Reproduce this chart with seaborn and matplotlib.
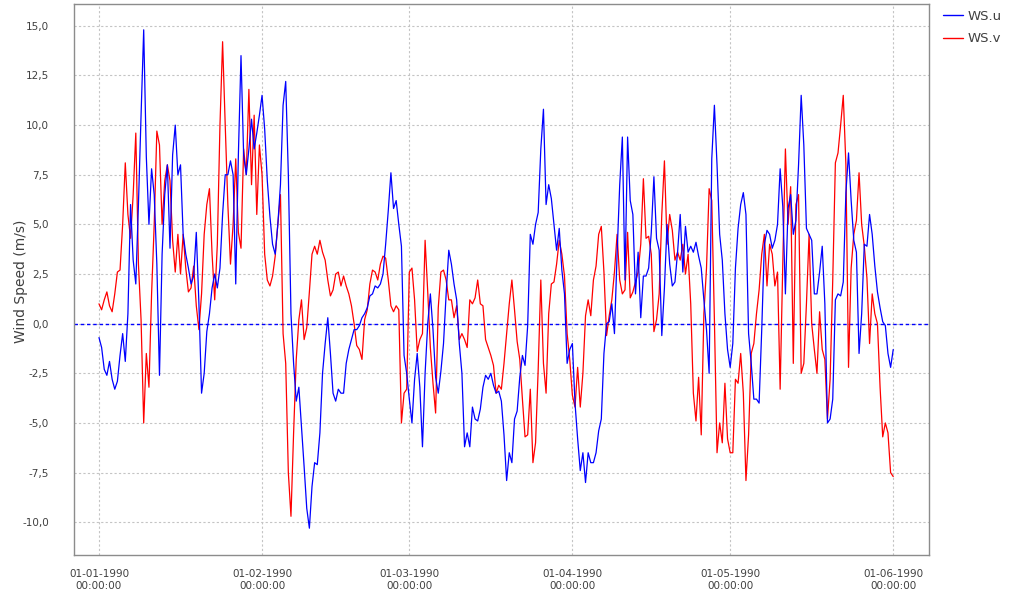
import numpy as np
import pandas as pd
import matplotlib
matplotlib.use('Agg')
import matplotlib.pyplot as plt
import matplotlib.dates as mdates
from matplotlib.lines import Line2D
from matplotlib.ticker import FuncFormatter
import seaborn as sns

# --- 1. Data (12-hourly wind components) ---
start_date = '1990-01-01'
series_names = ['WS.u', 'WS.v']

ws_u = [
    -0.7, -1.2, -2.3, -2.6, -1.9, -2.8, -3.3, -2.9, -1.6, -0.5,
    -1.9, 0.5, 6.0, 3.2, 2.0, 6.0, 10.5, 14.8, 8.4, 5.0,
    7.8, 6.5, 3.0, -2.6, 3.5, 6.5, 8.0, 3.8, 8.5, 10.0,
    7.5, 8.0, 4.5, 3.5, 2.8, 2.0, 2.4, 4.6, 1.0, -3.5,
    -2.5, -0.4, 0.5, 1.8, 2.5, 1.8, 2.8, 5.5, 7.5, 7.5,
    8.2, 7.5, 2.0, 8.5, 13.5, 8.5, 7.5, 8.8, 10.3, 8.8,
    9.6, 10.5, 11.5, 9.8, 7.2, 5.4, 4.0, 3.5, 5.0, 7.0,
    11.0, 12.2, 7.5, 0.5, -2.0, -3.9, -3.2, -5.2, -7.2, -9.3,
    -10.3, -8.2, -7.0, -7.1, -5.5, -2.5, -1.0, 0.3, -1.5, -3.5,
    -3.9, -3.3, -3.5, -3.5, -2.0, -1.3, -0.8, -0.3, -0.3, -0.1,
    0.3, 0.5, 0.8, 1.4, 1.5, 1.9, 1.8, 2.0, 2.5, 4.0,
    5.7, 7.6, 5.8, 6.2, 5.0, 3.9, -1.6, -2.5, -3.8, -5.0,
    -2.8, -1.5, -3.2, -6.2, -2.5, 0.0, 1.5, -0.3, -2.7, -3.5,
    -2.4, -1.0, 1.5, 3.7, 3.0, 2.0, 1.2, -1.0, -2.5, -6.2,
    -5.5, -6.2, -4.2, -4.8, -4.9, -4.3, -3.2, -2.6, -2.8, -2.5,
    -3.1, -3.5, -3.4, -3.9, -5.6, -7.9, -6.5, -7.0, -4.8, -4.4,
    -2.7, -1.6, -2.1, -0.1, 4.5, 4.0, 5.0, 5.6, 8.8, 10.8,
    6.0, 7.0, 6.3, 5.0, 3.7, 4.8, 2.7, 1.5, -2.0, -1.3,
    -1.0, -4.0, -5.8, -7.4, -6.5, -8.0, -6.5, -7.0, -7.0, -6.5,
    -5.4, -4.8, -1.5, 0.0, 0.1, 1.0, -0.5, 3.5, 7.0, 9.4,
    2.2, 9.4, 6.2, 5.5, 1.5, 3.6, 0.3, 2.4, 2.4, 2.8,
    4.6, 7.4, 4.3, 3.7, -0.6, 1.8, 5.0, 3.0, 1.9, 2.1,
    3.6, 5.5, 2.6, 4.9, 3.6, 3.9, 3.6, 4.1, 3.4, 2.8,
    1.2, -0.3, -2.5, 8.3, 11.0, 8.0, 4.5, 3.2, 0.5, -1.3,
    -2.2, -1.0, 2.8, 4.8, 6.0, 6.6, 5.5, -0.5, -2.0, -3.8,
    -3.8, -4.0, -0.3, 4.0, 4.7, 4.5, 3.8, 4.2, 5.0, 7.8,
    5.9, 1.5, 5.8, 6.5, 4.5, 5.2, 8.0, 11.5, 9.0, 4.8,
    4.5, 4.2, 1.5, 1.5, 2.6, 3.9, 1.0, -5.0, -4.8, -3.8,
    1.2, 1.5, 1.4, 2.1, 6.6, 8.6, 6.2, 4.2, 3.6, -1.5,
    0.5, 4.0, 3.9, 5.5, 4.5, 2.9, 1.6, 0.8, 0.1, -0.1,
    -1.5, -2.2, -1.3,
]

ws_v = [
    1.0, 0.7, 1.2, 1.6, 0.9, 0.6, 1.5, 2.6, 2.7, 5.0,
    8.1, 5.5, 4.3, 6.5, 9.6, 3.0, 0.2, -5.0, -1.5, -3.2,
    1.5, 5.0, 9.7, 9.0, 5.0, 7.2, 8.0, 7.2, 4.2, 2.6,
    4.5, 2.5, 4.5, 2.8, 1.6, 1.8, 2.9, 0.9, -0.3, 1.5,
    4.5, 6.0, 6.8, 3.5, 1.2, 4.0, 10.0, 14.2, 10.0, 6.0,
    3.0, 5.0, 8.3, 4.6, 3.8, 8.8, 7.5, 11.8, 7.0, 10.5,
    5.5, 9.0, 7.5, 3.5, 2.2, 1.9, 2.4, 3.4, 5.0, 6.5,
    -0.5, -2.0, -7.5, -9.7, -5.5, -1.8, 0.2, 1.2, -0.8, -0.2,
    1.6, 3.5, 3.9, 3.5, 4.2, 3.6, 3.2, 2.2, 1.4, 1.7,
    2.5, 2.6, 1.9, 2.4, 1.9, 1.5, 0.9, 0.0, -1.1, -1.3,
    -1.8, 0.2, 0.7, 2.0, 2.7, 2.6, 2.2, 3.0, 3.4, 3.3,
    2.2, 0.9, 0.6, 0.9, 0.7, -5.0, -3.5, -3.3, 2.6, 2.8,
    1.2, -1.4, -0.8, -0.5, 4.2, 1.6, -1.2, -3.0, -4.5, 0.8,
    2.6, 2.7, 2.2, 1.2, 1.2, 0.3, 0.9, -0.8, -0.5, -0.8,
    -1.2, 1.2, 1.0, 1.3, 2.2, 1.0, 0.9, -0.8, -1.2, -1.6,
    -2.1, -3.5, -3.1, -3.3, -2.0, -0.5, 1.0, 2.2, 0.7, -0.9,
    -1.8, -3.8, -5.7, -5.6, -3.3, -7.0, -6.0, -2.3, 2.2, -2.0,
    -3.5, 0.5, 2.0, 2.1, 3.0, 4.2, 3.5, 2.4, -0.5, -1.8,
    -3.6, -4.2, -2.2, -4.2, -2.5, 0.4, 1.2, 0.4, 2.2, 2.9,
    4.5, 4.9, 2.6, -0.6, 0.4, 1.2, 2.6, 4.5, 2.2, 1.5,
    1.7, 4.6, 1.3, 1.6, 2.1, 2.6, 4.0, 7.3, 4.3, 4.4,
    3.5, -0.4, 0.2, 1.5, 5.5, 8.2, 4.0, 5.5, 4.7, 3.2,
    3.6, 3.2, 4.0, 2.5, 3.5, 1.0, -3.5, -4.9, -2.7, -5.6,
    0.5, 2.8, 6.8, 6.2, 0.2, -6.5, -5.0, -6.0, -3.0, -5.8,
    -6.5, -6.5, -2.8, -3.0, -1.5, -3.5, -7.9, -5.6, -1.5, -1.0,
    0.5, 1.7, 3.5, 4.5, 1.9, 4.0, 3.5, 1.9, 2.6, -3.3,
    3.0, 8.8, 5.0, 6.9, -2.0, 6.0, 6.5, -2.5, -2.0, 1.0,
    4.5, 0.0, -1.3, -2.5, 0.6, -1.3, -1.8, -4.8, -2.8, 2.2,
    8.1, 8.6, 10.0, 11.5, 8.0, -2.2, 2.8, 4.5, 5.2, 7.6,
    5.0, 3.9, 2.3, -1.0, 1.5, 0.5, 0.0, -3.2, -5.7, -5.0,
    -5.5, -7.5, -7.7,
]

y_ticks = [-10.0, -7.5, -5.0, -2.5, 0.0, 2.5, 5.0, 7.5, 10.0, 12.5, 15.0]
month_ticks = ['1990-01-01', '1990-02-01', '1990-03-01', '1990-04-01', '1990-05-01', '1990-06-01']

times = pd.date_range(start_date, periods=len(ws_u), freq='12h')
df = pd.DataFrame({'time': times, 'WS.u': ws_u, 'WS.v': ws_v})
df = df.melt(id_vars='time', var_name='series', value_name='speed')

# --- 2. Plot ---
sns.set_style('white')
plt.rcParams['font.family'] = ['DejaVu Sans']

palette = {'WS.u': '#0000ff', 'WS.v': '#ff0000'}
text_col = '#404040'
frame_col = '#8c8c8c'

fig = plt.figure(figsize=(10.25, 5.99), dpi=100)
ax = fig.add_axes([74 / 1025, 1 - 555 / 599, (929 - 74) / 1025, (555 - 4) / 599])

# red first so that blue ends up on top
sns.lineplot(data=df, x='time', y='speed', hue='series', hue_order=['WS.v', 'WS.u'],
             palette=palette, estimator=None, linewidth=0.9, legend=False, ax=ax)

ax.axhline(0, color='#0000ff', linewidth=1.0, linestyle=(0, (2.5, 2)), zorder=1)

ax.set_xlim(pd.Timestamp('1990-01-01') - pd.Timedelta(days=4.75),
            pd.Timestamp('1990-01-01') + pd.Timedelta(days=157.8))
ax.set_ylim(-11.65, 16.1)

ax.set_xticks(pd.to_datetime(month_ticks))
ax.xaxis.set_major_formatter(mdates.DateFormatter('%d-%m-%Y\n%H:%M:%S'))
ax.set_yticks(y_ticks)
ax.yaxis.set_major_formatter(FuncFormatter(lambda v, p: f'{v:.1f}'.replace('.', ',')))

ax.grid(True, color='#c4c4c4', linestyle=(0, (2, 2)), linewidth=0.8)
ax.set_axisbelow(True)

for s in ax.spines.values():
    s.set_color(frame_col)
    s.set_linewidth(1.0)

ax.tick_params(axis='both', direction='out', length=4, width=0.8, color=frame_col,
               labelsize=7.5, labelcolor=text_col)
ax.tick_params(axis='x', pad=6)
ax.tick_params(axis='y', pad=14)
for lab in ax.get_xticklabels():
    lab.set_linespacing(1.3)

ax.set_xlabel('')
ax.set_ylabel('')
fig.text(21 / 1025, 1 - 281 / 599, 'Wind Speed (m/s)', rotation=90, ha='center', va='center',
         fontsize=10, color=text_col)

handles = [Line2D([], [], color=palette[n], linewidth=1.0) for n in series_names]
fig.legend(handles, series_names, loc='upper left', bbox_to_anchor=(943 / 1025, 1 - 10 / 599),
           frameon=False, fontsize=9.5, labelcolor=text_col, handlelength=1.5,
           handletextpad=0.35, labelspacing=0.7, borderpad=0, borderaxespad=0)

fig.savefig('out.png', dpi=100)
